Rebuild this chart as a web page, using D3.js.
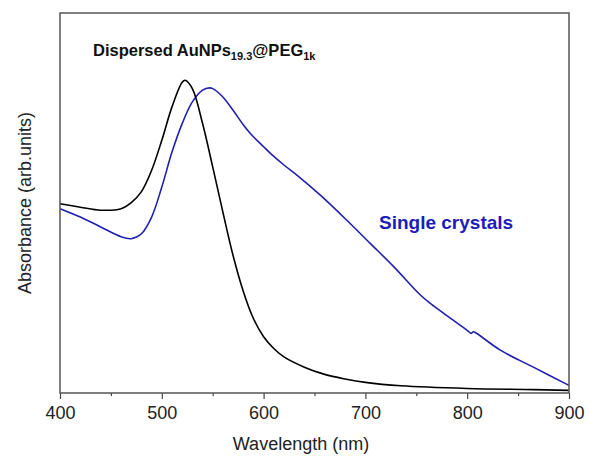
<!DOCTYPE html>
<html>
<head>
<meta charset="utf-8">
<script src="https://cdn.jsdelivr.net/npm/d3@7"></script>
<style>
  body { margin: 0; background: #fff; }
  svg { display: block; font-family: "Liberation Sans", Arial, sans-serif; }
</style>
</head>
<body>
<svg id="chart" width="590" height="460"></svg>
<script>
// Wavelength (nm) and absorbance (arb. units)
const blackWl = [400, 420, 440, 460, 470, 480, 490, 500, 510, 520, 523, 530, 540, 550, 560, 570, 580, 590, 600, 610, 620, 640, 660, 680, 700, 735, 800, 865, 900];
const blackAbs = [0.498, 0.489, 0.481, 0.485, 0.501, 0.530, 0.586, 0.665, 0.753, 0.818, 0.823, 0.801, 0.710, 0.595, 0.476, 0.362, 0.268, 0.196, 0.148, 0.117, 0.095, 0.068, 0.049, 0.037, 0.028, 0.019, 0.012, 0.009, 0.007];

const blueWl = [400, 420, 440, 460, 470, 480, 490, 500, 510, 520, 530, 540, 547, 550, 560, 570, 580, 587, 600, 607, 620, 633, 656, 682, 705, 728, 754, 767, 800, 804, 806, 808, 833, 865, 900];
const blueAbs = [0.485, 0.463, 0.437, 0.411, 0.406, 0.419, 0.463, 0.542, 0.634, 0.709, 0.766, 0.797, 0.803, 0.801, 0.779, 0.744, 0.706, 0.683, 0.648, 0.630, 0.600, 0.573, 0.520, 0.454, 0.393, 0.332, 0.258, 0.229, 0.165, 0.157, 0.161, 0.159, 0.112, 0.068, 0.020];

const majorTicks = [400, 500, 600, 700, 800, 900];
const minorTicks = [450, 550, 650, 750, 850];

const svg = d3.select("#chart");
const margin = {top: 13, right: 21, bottom: 67, left: 60};
const width = 590 - margin.left - margin.right;
const height = 460 - margin.top - margin.bottom;

const g = svg.append("g").attr("transform", "translate(" + margin.left + "," + margin.top + ")");

const x = d3.scaleLinear().domain([400, 900]).range([0, width]);
const y = d3.scaleLinear().domain([0, 1]).range([height, 0]);

// minor ticks first, then the major axis
g.append("g")
    .attr("transform", "translate(0," + height + ")")
    .call(d3.axisBottom(x).tickValues(minorTicks).tickSize(3).tickFormat(""))
    .call(a => a.select(".domain").remove())
    .selectAll("line").attr("stroke", "#444").attr("stroke-width", 1.2);

const xAxis = g.append("g")
    .attr("transform", "translate(0," + height + ")")
    .call(d3.axisBottom(x).tickValues(majorTicks).tickSize(6).tickPadding(7).tickFormat(d3.format("d")));
xAxis.select(".domain").remove();
xAxis.selectAll("line").attr("stroke", "#444").attr("stroke-width", 1.2);
xAxis.selectAll("text")
    .attr("font-size", 18)
    .attr("fill", "#222")
    .attr("font-family", "Liberation Sans, Arial, sans-serif");

// the curves
const line = d3.line()
    .x(d => x(d[0]))
    .y(d => y(d[1]))
    .curve(d3.curveCatmullRom.alpha(0.5));

g.append("path")
    .datum(d3.zip(blueWl, blueAbs))
    .attr("fill", "none")
    .attr("stroke", "#2020b0")
    .attr("stroke-width", 1.6)
    .attr("d", line);

g.append("path")
    .datum(d3.zip(blackWl, blackAbs))
    .attr("fill", "none")
    .attr("stroke", "#000")
    .attr("stroke-width", 1.6)
    .attr("d", line);

// frame
g.append("rect")
    .attr("width", width)
    .attr("height", height)
    .attr("fill", "none")
    .attr("stroke", "#555")
    .attr("stroke-width", 1.5);

// axis titles
svg.append("text")
    .attr("x", 301)
    .attr("y", 450)
    .attr("text-anchor", "middle")
    .attr("font-size", 18)
    .attr("fill", "#222")
    .text("Wavelength (nm)");

svg.append("text")
    .attr("transform", "translate(31,203) rotate(-90)")
    .attr("text-anchor", "middle")
    .attr("font-size", 18)
    .attr("fill", "#222")
    .text("Absorbance (arb.units)");

// annotations
const title = svg.append("text")
    .attr("x", 93)
    .attr("y", 56)
    .attr("font-size", 16.5)
    .attr("font-weight", "bold")
    .attr("fill", "#111");
title.append("tspan").text("Dispersed AuNPs");
title.append("tspan").attr("font-size", 11).attr("dy", 4).text("19.3");
title.append("tspan").attr("dy", -4).text("@PEG");
title.append("tspan").attr("font-size", 11).attr("dy", 4).text("1k");

svg.append("text")
    .attr("x", 379)
    .attr("y", 229)
    .attr("font-size", 19)
    .attr("font-weight", "bold")
    .attr("fill", "#1c1cbc")
    .text("Single crystals");
</script>
</body>
</html>
